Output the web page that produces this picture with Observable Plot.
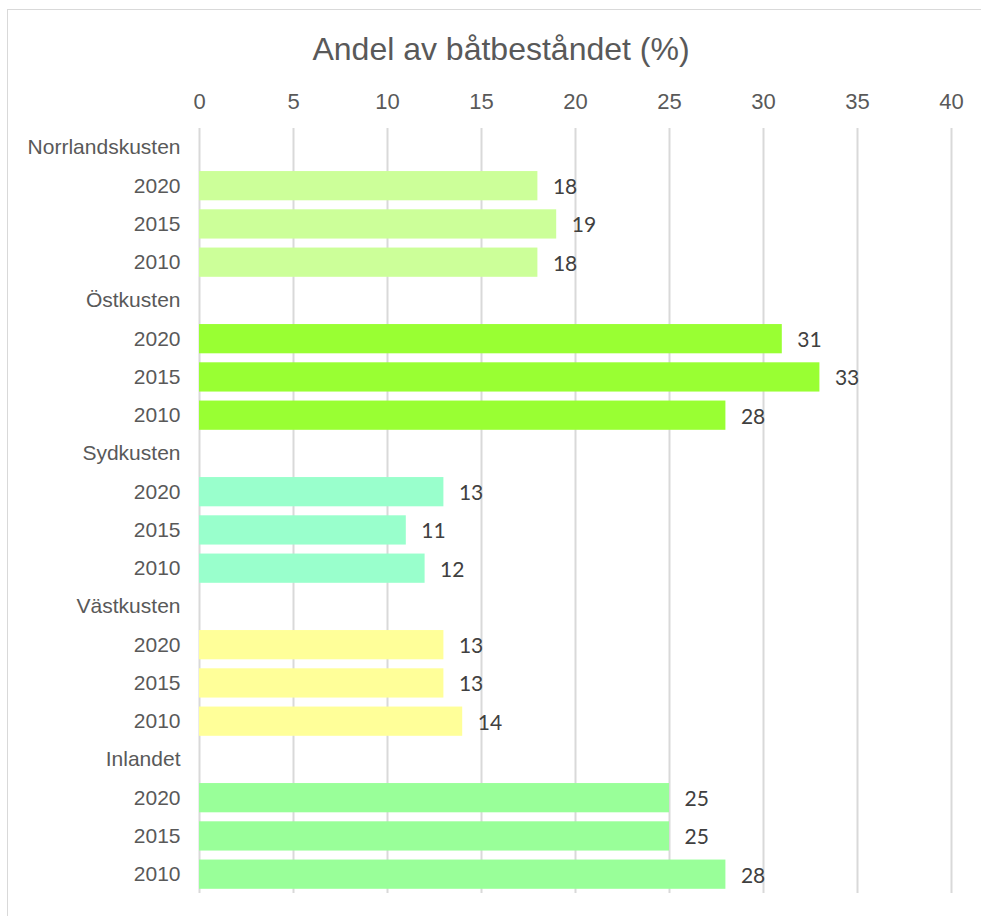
<!DOCTYPE html>
<html>
<head>
<meta charset="utf-8">
<script src="https://cdn.jsdelivr.net/npm/d3@7"></script>
<script src="https://cdn.jsdelivr.net/npm/@observablehq/plot@0.6"></script>
<style>
  html, body { margin: 0; padding: 0; background: #fff; }
  #wrap { position: relative; width: 981px; height: 916px; overflow: hidden; }
  #frame { position: absolute; left: 7px; top: 9px; width: 1000px; height: 1000px; border: 1px solid #d9d9d9; box-sizing: border-box; }
  #title { position: absolute; left: 0; top: 31px; width: 1002px; text-align: center; font-family: "Liberation Sans", Arial, sans-serif; font-size: 32px; line-height: 36px; color: #595959; }
  #chart { position: absolute; left: 0; top: 70px; }
</style>
</head>
<body>
<div id="wrap">
  <div id="frame"></div>
  <div id="title">Andel av båtbeståndet (%)</div>
  <div id="chart"></div>
</div>
<script>
const regions = ["Norrlandskusten", "Östkusten", "Sydkusten", "Västkusten", "Inlandet"];
const years = ["2020", "2015", "2010"];
const values2020 = [18, 31, 13, 13, 25];
const values2015 = [19, 33, 11, 13, 25];
const values2010 = [18, 28, 12, 14, 28];
const regionColors = ["#ccff99", "#99ff33", "#99ffcc", "#ffff99", "#99ff99"];
const xTicks = [0, 5, 10, 15, 20, 25, 30, 35, 40];

const series = {"2020": values2020, "2015": values2015, "2010": values2010};
const domain = [];
const rows = [];
regions.forEach((r, i) => {
  domain.push(r);
  years.forEach(y => {
    const key = r + "|" + y;
    domain.push(key);
    rows.push({key, region: r, year: y, value: series[y][i], color: regionColors[i]});
  });
});

const chart = Plot.plot({
  width: 981,
  height: 846,
  marginTop: 58,
  marginBottom: 23,
  marginLeft: 199,
  marginRight: 30,
  style: {fontFamily: "'Liberation Sans', Arial, sans-serif", color: "#595959", background: "transparent"},
  x: {domain: [0, 40], ticks: xTicks},
  y: {domain, padding: 0, round: false},
  marks: [
    Plot.ruleX(xTicks, {stroke: "#d9d9d9", strokeWidth: 2}),
    Plot.barX(rows, {x: "value", y: "key", fill: "color", insetTop: 4.8, insetBottom: 4.2}),
    Plot.text(rows, {x: "value", y: "key", text: d => String(d.value), dx: 15, dy: 1.5, textAnchor: "start", fontSize: 21, fontFamily: "Lato, 'Open Sans', sans-serif", fill: "#404040"}),
    Plot.axisX(xTicks, {anchor: "top", tickSize: 0, tickPadding: 20, fontSize: 22, label: null}),
    Plot.axisY({tickSize: 0, tickPadding: 19, fontSize: 21, label: null, tickFormat: d => d.includes("|") ? d.split("|")[1] : d})
  ]
});
document.getElementById("chart").appendChild(chart);
</script>
</body>
</html>
